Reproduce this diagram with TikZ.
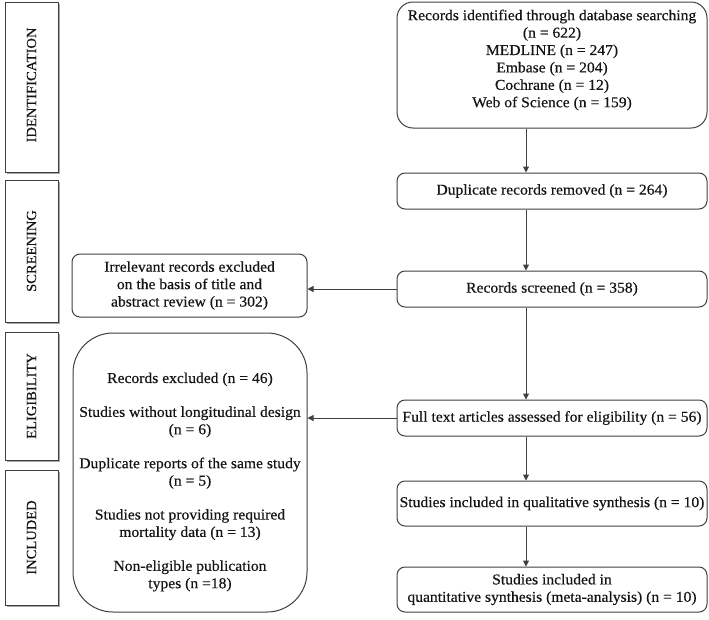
\documentclass[tikz,border=0pt]{standalone}
\usepackage{fontspec}
\setmainfont{Liberation Serif}[FakeStretch=1.04,FakeBold=0.4]
\usetikzlibrary{arrows.meta,shadows}
\definecolor{ln}{RGB}{64,64,64}
\definecolor{tx}{RGB}{20,20,20}
\begin{document}
\begin{tikzpicture}[x=1pt,y=-1pt,
  every node/.style={font=\fontsize{15}{17.4}\selectfont, text=tx},
  sidebox/.style={draw=ln, line width=1pt, fill=white, minimum width=53pt, inner sep=0pt,
    drop shadow={shadow xshift=2pt, shadow yshift=-2pt, fill=gray!70, opacity=1}},
  sidetext/.style={rotate=90, font=\fontsize{14}{16}\selectfont, inner sep=0pt},
  rbox/.style={draw=ln, line width=1pt, fill=white, rounded corners=8pt, minimum width=310pt, inner sep=2pt, align=center},
  txt/.style={align=center, inner sep=0pt},
  arr/.style={draw=ln, line width=1pt, -{Triangle[length=6pt,width=6pt]}},
]
\useasboundingbox (0,0) rectangle (709,619);

% phase boxes
\node[sidebox, minimum height=170pt] (sid) at (31.5,87) {};
\node[sidetext] (sidt) at (31.5,85) {IDENTIFICATION};
\node[sidebox, minimum height=142pt] (sscr) at (31.5,251) {};
\node[sidetext] (sscrt) at (31.5,251) {SCREENING};
\node[sidebox, minimum height=128pt] (selg) at (31.5,396) {};
\node[sidetext] (selgt) at (31.5,396) {ELIGIBILITY};
\node[sidebox, minimum height=135pt] (sinc) at (31.5,537.5) {};
\node[sidetext] (sinct) at (31.5,537.5) {INCLUDED};

% right column
\node[rbox, minimum height=126pt, rounded corners=16pt] (ident) at (552,65) {};
\node[txt] (identt) at (552,60) {Records identified through database searching\\(n = 622)\\MEDLINE (n = 247)\\Embase (n = 204)\\Cochrane (n = 12)\\Web of Science (n = 159)};
\node[rbox, minimum height=36pt] (dup) at (552,191) {Duplicate records removed (n = 264)};
\node[rbox, minimum height=36pt] (scr) at (552,289) {Records screened (n = 358)};
\node[rbox, minimum height=36pt] (full) at (552,418) {Full text articles assessed for eligibility (n = 56)};
\node[rbox, minimum height=45pt] (qual) at (552,503.5) {Studies included in qualitative synthesis (n = 10)};
\node[rbox, minimum height=45pt] (quant) at (552,589.5) {Studies included in\\quantitative synthesis (meta-analysis) (n = 10)};

% left column
\node[rbox, minimum width=235pt, minimum height=63pt] (irr) at (189.5,285.5) {Irrelevant records excluded\\on the basis of title and\\abstract review (n = 302)};
\node[draw=ln, line width=1pt, fill=white, rounded corners=40pt, minimum width=234pt, minimum height=279pt, inner sep=0pt] (excl) at (190,472.5) {};
\node[txt] (exclt) at (190,482) {Records excluded (n = 46)\\[16.5pt]
Studies without longitudinal design\\(n = 6)\\[16.5pt]
Duplicate reports of the same study\\(n = 5)\\[16.5pt]
Studies not providing required\\mortality data (n = 13)\\[16.5pt]
Non-eligible publication\\types (n =18)};

% connectors
\coordinate (ax) at (526,0);
\draw[arr] (ident.south -| ax) -- (dup.north -| ax);
\draw[arr] (dup.south -| ax) -- (scr.north -| ax);
\draw[arr] (scr.south -| ax) -- (full.north -| ax);
\draw[arr] (full.south -| ax) -- (qual.north -| ax);
\draw[arr] (qual.south -| ax) -- (quant.north -| ax);
\draw[arr] (scr.west) -- (scr.west -| irr.east);
\draw[arr] (full.west) -- (full.west -| excl.east);
\end{tikzpicture}
\end{document}
